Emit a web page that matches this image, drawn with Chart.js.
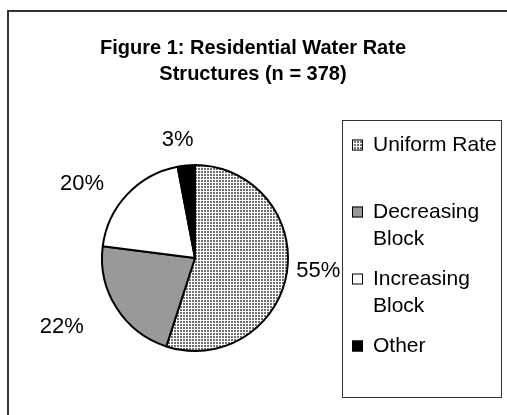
<!DOCTYPE html>
<html>
<head>
<meta charset="utf-8">
<script src="https://cdn.jsdelivr.net/npm/chart.js@4.4.1/dist/chart.umd.min.js"></script>
<style>
body{margin:0;background:#fff;}
canvas{display:block;}
</style>
</head>
<body>
<canvas id="myChart" width="507" height="415"></canvas>
<script>
// values
const titleLines = ['Figure 1: Residential Water Rate', 'Structures (n = 378)'];
const categories = ['Uniform Rate', 'Decreasing Block', 'Increasing Block', 'Other'];
const shares = [55, 22, 20, 3];
const pctLabels = ['55%', '22%', '20%', '3%'];

const FONT = '"Liberation Sans", Arial, sans-serif';

let chartSheet = document.getElementById('myChart');
let ctx0 = chartSheet.getContext('2d');

// dotted fill like the old excel pattern
function dotPattern(ctx) {
  let c = document.createElement('canvas');
  c.width = 3; c.height = 3;
  let x = c.getContext('2d');
  x.fillStyle = '#fff';
  x.fillRect(0, 0, 3, 3);
  x.fillStyle = '#707070';
  x.fillRect(0, 0, 2, 2);
  return ctx.createPattern(c, 'repeat');
}

const fills = [dotPattern(ctx0), '#999999', '#ffffff', '#000000'];

const decor = {
  id: 'decor',
  beforeDraw(chart) {
    const ctx = chart.ctx;
    ctx.save();
    ctx.fillStyle = '#fff';
    ctx.fillRect(0, 0, chart.width, chart.height);
    ctx.restore();
  },
  afterDraw(chart, args, o) {
    const ctx = chart.ctx;
    ctx.save();

    // outer frame (runs off the right and bottom edge)
    ctx.strokeStyle = '#333';
    ctx.lineWidth = 2;
    ctx.strokeRect(o.frame.x, o.frame.y, 700, 600);

    // title
    ctx.fillStyle = '#000';
    ctx.textAlign = 'center';
    ctx.textBaseline = 'middle';
    ctx.font = 'bold 20px ' + FONT;
    titleLines.forEach((t, i) => ctx.fillText(t, o.titleX, o.titleY[i]));

    // percentage labels, placed from the arcs chart.js computed
    ctx.font = '22px ' + FONT;
    const meta = chart.getDatasetMeta(0);
    meta.data.forEach((arc, i) => {
      const p = arc.getProps(['x', 'y', 'startAngle', 'endAngle', 'outerRadius']);
      const mid = (p.startAngle + p.endAngle) / 2 + o.labelTurn[i] * Math.PI / 180;
      const r = p.outerRadius + o.labelGap[i];
      ctx.fillText(pctLabels[i], p.x + Math.cos(mid) * r, p.y + Math.sin(mid) * r);
    });

    // legend box
    ctx.font = '21px ' + FONT;
    const L = o.legend;
    ctx.strokeStyle = '#333';
    ctx.lineWidth = 1;
    ctx.strokeRect(L.left + 0.5, L.top + 0.5, L.right - L.left, L.bottom - L.top);
    ctx.textAlign = 'left';
    const maxW = L.right - L.textX - 2;
    categories.forEach((name, i) => {
      const y0 = L.firstY + i * L.step;
      // wrap words to the box
      let lines = [], cur = '';
      name.split(' ').forEach(w => {
        let t = cur ? cur + ' ' + w : w;
        if (cur && ctx.measureText(t).width > maxW) { lines.push(cur); cur = w; }
        else cur = t;
      });
      lines.push(cur);
      lines.forEach((ln, k) => ctx.fillText(ln, L.textX, y0 + k * L.lineStep));
      const s = L.marker;
      ctx.fillStyle = fills[i];
      ctx.fillRect(L.markerX, y0 - s / 2, s, s);
      ctx.strokeStyle = '#000';
      ctx.strokeRect(L.markerX + 0.5, y0 - s / 2 + 0.5, s - 1, s - 1);
      ctx.fillStyle = '#000';
    });
    ctx.restore();
  }
};

const data = {
  labels: categories,
  datasets: [{
    data: shares,
    backgroundColor: fills,
    borderColor: '#000',
    borderWidth: 2
  }]
};

const config = {
  type: 'pie',
  data: data,
  options: {
    responsive: false,
    animation: false,
    layout: { padding: { left: 101, right: 218, top: 164, bottom: 63 } },
    plugins: {
      legend: { display: false },
      tooltip: { enabled: false },
      decor: {
        frame: { x: 8, y: 11 },
        titleX: 253,
        titleY: [48, 74],
        labelGap: [31, 57, 42, 26],
        labelTurn: [-3, 5, -10, -3],
        legend: { left: 342, top: 120, right: 501, bottom: 397, markerX: 352, textX: 373, firstY: 145, step: 67, lineStep: 27, marker: 11 }
      }
    }
  },
  plugins: [decor]
};

const myChart = new Chart(chartSheet, config);
</script>
</body>
</html>
